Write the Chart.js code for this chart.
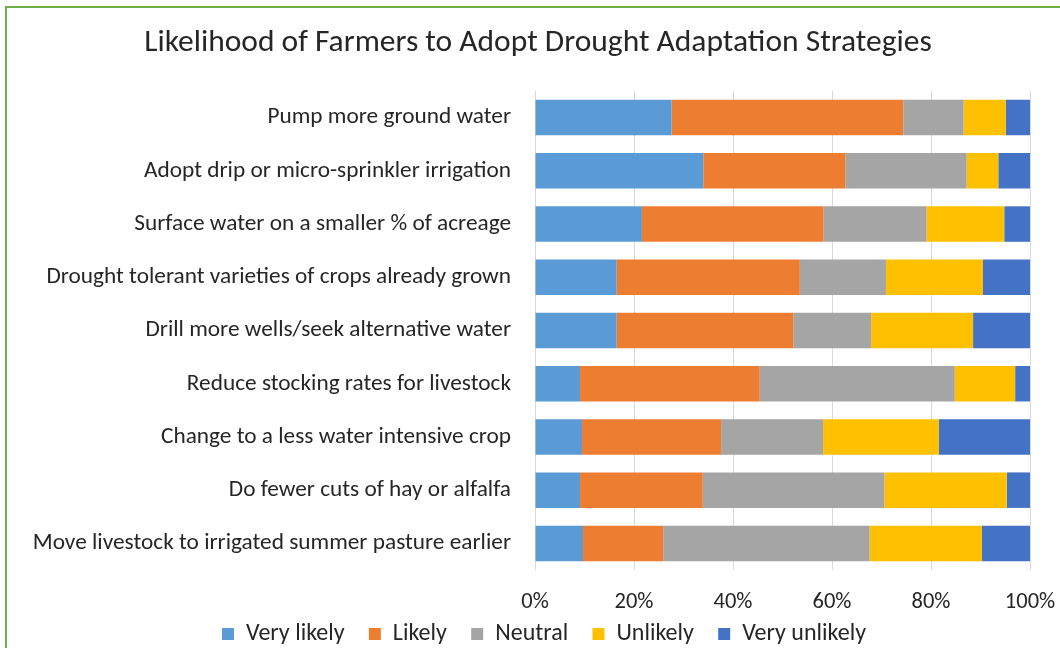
<!DOCTYPE html>
<html>
<head>
<meta charset="utf-8">
<script src="https://cdn.jsdelivr.net/npm/chart.js@4/dist/chart.umd.min.js"></script>
<style>
  html, body { margin: 0; padding: 0; background: #fff; overflow: hidden; width: 1060px; height: 648px; }
  #frame {
    position: absolute; left: 5px; top: 6px; width: 1100px; height: 700px;
    border: 2px solid #70AD47; box-sizing: border-box;
  }
  #chart { position: absolute; left: 0; top: 0; }
</style>
</head>
<body>
<div id="frame"></div>
<canvas id="chart" width="1060" height="660"></canvas>
<script>
'use strict';

/* ── Data (percent of respondents) ── */
const strategies = [
  'Pump more ground water',
  'Adopt drip or micro-sprinkler irrigation',
  'Surface water on a smaller % of acreage',
  'Drought tolerant varieties of crops already grown',
  'Drill more wells/seek alternative water',
  'Reduce stocking rates for livestock',
  'Change to a less water intensive crop',
  'Do fewer cuts of hay or alfalfa',
  'Move livestock to irrigated summer pasture earlier'
];

const veryLikely   = [27.6, 34.0, 21.6, 16.5, 16.5,  9.1,  9.5,  9.1,  9.7];
const likely       = [46.8, 28.7, 36.7, 37.0, 35.7, 36.3, 28.1, 24.8, 16.2];
const neutral      = [12.2, 24.5, 20.8, 17.4, 15.7, 39.4, 20.6, 36.7, 41.7];
const unlikely     = [ 8.5,  6.4, 15.7, 19.6, 20.6, 12.2, 23.4, 24.7, 22.7];
const veryUnlikely = [ 4.9,  6.4,  5.2,  9.5, 11.5,  3.0, 18.4,  4.7,  9.7];

const seriesNames  = ['Very likely', 'Likely', 'Neutral', 'Unlikely', 'Very unlikely'];
const xTicks       = [0, 20, 40, 60, 80, 100];

/* ── Styling ── */
const FONT    = 'Carlito, Lato, "Open Sans", sans-serif';
const colours = ['#5B9BD5', '#ED7D31', '#A5A5A5', '#FFC000', '#4472C4'];
const series  = [veryLikely, likely, neutral, unlikely, veryUnlikely];

const datasets = series.map((data, i) => ({
  label: seriesNames[i],
  data: data,
  backgroundColor: colours[i],
  borderWidth: 0,
  categoryPercentage: 1,
  barPercentage: 0.667
}));

// default legend items, with trailing spaces to widen the gap between entries
function legendLabels(chart) {
  const items = Chart.defaults.plugins.legend.labels.generateLabels(chart);
  return items.map((it, i) =>
    Object.assign(it, { text: i < items.length - 1 ? it.text + '   ' : it.text }));
}

// title and legend sit a little right of the canvas centre in the original
const nudgeBlocks = {
  id: 'nudgeBlocks',
  afterLayout(chart) {
    if (chart.titleBlock) { chart.titleBlock.left += 9;  chart.titleBlock.right += 9; }
    if (chart.legend)     { chart.legend.left += 15;     chart.legend.right += 15; }
  }
};

new Chart(document.getElementById('chart'), {
  type: 'bar',
  data: { labels: strategies, datasets },
  plugins: [nudgeBlocks],
  options: {
    indexAxis: 'y',
    responsive: false,
    animation: false,
    layout: { padding: { left: 28, right: 30, top: 0, bottom: 4 } },
    plugins: {
      title: {
        display: true,
        text: 'Likelihood of Farmers to Adopt Drought Adaptation Strategies',
        color: '#262626',
        font: { family: FONT, size: 31.5, weight: 'normal', lineHeight: 1.2 },
        padding: { top: 24.6, bottom: 28.6 }
      },
      legend: {
        position: 'bottom',
        labels: {
          color: '#262626',
          font: { family: FONT, size: 24 },
          boxWidth: 12,
          boxHeight: 12,
          padding: 8,
          generateLabels: legendLabels
        }
      },
      tooltip: { enabled: false }
    },
    scales: {
      x: {
        stacked: true,
        min: 0,
        max: 100,
        afterBuildTicks: s => { s.ticks = xTicks.map(v => ({ value: v })); },
        // shorter axis band; let "100%" overhang the plot edge
        afterFit: s => { s.height = 44; s.paddingLeft = 0; s.paddingRight = 0; },
        grid: { color: '#D9D9D9', drawTicks: false },
        border: { display: false },
        ticks: {
          color: '#262626',
          font: { family: FONT, size: 22.5, lineHeight: 1 },
          padding: 20.75,
          callback: v => v + '%'
        }
      },
      y: {
        stacked: true,
        grid: { display: false, drawTicks: false },
        border: { display: false },
        afterFit: s => { s.width = 507; },
        ticks: {
          color: '#262626',
          font: { family: FONT, size: 23.3 },
          padding: 24
        }
      }
    }
  }
});
</script>
</body>
</html>
